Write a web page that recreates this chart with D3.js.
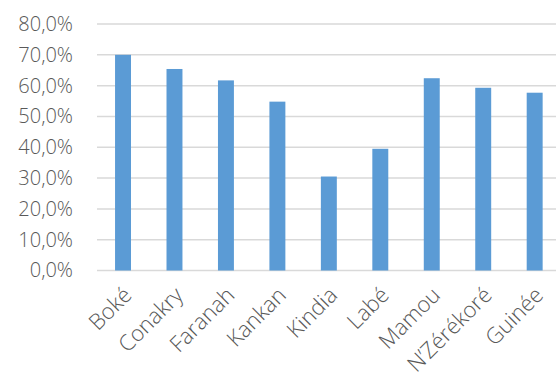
<!DOCTYPE html>
<html><head><meta charset="utf-8">
<script src="https://cdn.jsdelivr.net/npm/d3@7"></script>
<style>body{margin:0;background:#fff}svg{display:block}</style>
</head><body>
<script>
const categories = ["Boké","Conakry","Faranah","Kankan","Kindia","Labé","Mamou","N’Zérékoré","Guinée"];
const values = [70.0, 65.4, 61.7, 54.8, 30.5, 39.5, 62.4, 59.3, 57.7];
const yTicks = [0,10,20,30,40,50,60,70,80];

const W = 556, H = 372;
const svg = d3.select("body").append("svg").attr("width", W).attr("height", H);
const x = d3.scaleBand().domain(categories).range([97.3, 560.4]).paddingInner(0.69).paddingOuter(0.345);
const y = d3.scaleLinear().domain([0, 80]).range([270.5, 24]);
const font = "'Open Sans', sans-serif";

svg.append("g").selectAll("line").data(yTicks).join("line")
  .attr("x1", 97).attr("x2", 556)
  .attr("y1", d => y(d)).attr("y2", d => y(d))
  .attr("stroke", "#D9D9D9").attr("stroke-width", 1.5);

const yAxis = svg.append("g").attr("transform", "translate(97,0)")
  .call(d3.axisLeft(y).tickValues(yTicks).tickSize(0).tickPadding(24)
    .tickFormat(d => d.toFixed(1).replace(".", ",") + "%"));
yAxis.select(".domain").remove();
yAxis.selectAll("text").attr("fill", "#595959").attr("font-size", 20).attr("font-family", font).attr("font-weight", 300);

svg.append("g").selectAll("rect").data(values).join("rect")
  .attr("x", (d, i) => x(categories[i]))
  .attr("width", x.bandwidth())
  .attr("y", d => y(d))
  .attr("height", d => y(0) - y(d))
  .attr("fill", "#5B9BD5");

const xAxis = svg.append("g").attr("transform", "translate(0,270.5)")
  .call(d3.axisBottom(x).tickSize(0).tickPadding(0));
xAxis.select(".domain").remove();
xAxis.selectAll("text")
  .attr("fill", "#595959").attr("font-size", 22).attr("font-family", font).attr("font-weight", 300)
  .attr("text-anchor", "end").attr("dy", null).attr("y", 0)
  .attr("transform", "translate(10,26) rotate(-45)");
</script>
</body></html>
